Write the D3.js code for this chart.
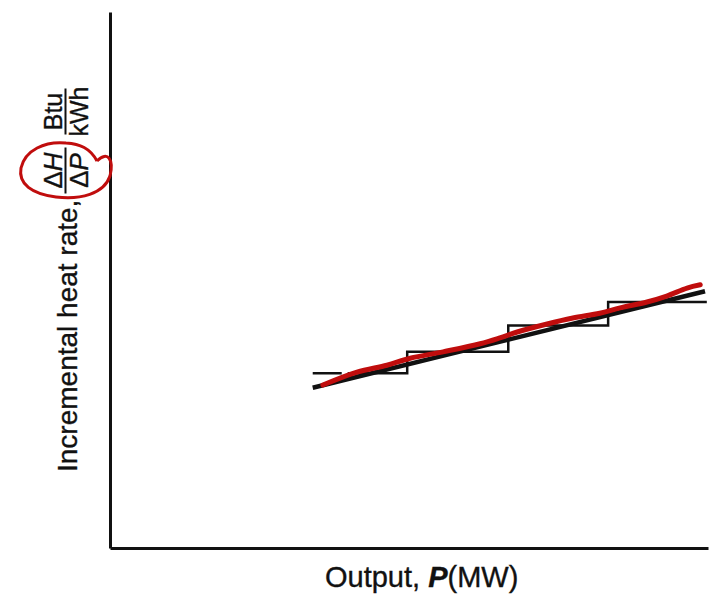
<!DOCTYPE html>
<html>
<head>
<meta charset="utf-8">
<script src="https://cdn.jsdelivr.net/npm/d3@7"></script>
<style>
  html, body { margin: 0; padding: 0; background: #fff; }
  text { font-family: "Liberation Sans", Arial, sans-serif; fill: #111; stroke: #111; stroke-width: 0.35; }
</style>
</head>
<body>
<div id="plot"></div>
<script>
// values (arbitrary units, axes run 0..100)
var stepEdges = [33.9, 49.7, 66.6, 83.3, 99.8];   // P where the staircase steps
var stepLevels = [32.6, 36.6, 41.5, 45.9];        // dH/dP level of each step
var fitP = [33.9, 99.5];                           // straight-line approximation
var fitH = [29.9, 47.9];
var curveP = [35.6, 41.3, 46.3, 50.2, 55.7, 61.9, 65.2, 68.1, 73.1, 77.4, 81.9, 85.3, 89.8, 93.1, 96.5, 98.7];
var curveH = [30.4, 32.8, 34.1, 35.4, 36.6, 38.1, 39.2, 40.3, 41.8, 42.9, 43.8, 44.8, 45.9, 47.0, 48.5, 49.1];

var width = 719, height = 604;
var x = d3.scaleLinear([0, 100], [110, 708]);
var y = d3.scaleLinear([0, 100], [548, 12]);

var svg = d3.select("#plot").append("svg")
  .attr("width", width)
  .attr("height", height)
  .attr("viewBox", [0, 0, width, height]);

// axes: plain lines, no ticks
svg.append("g")
  .attr("transform", `translate(0,${y(0)})`)
  .call(d3.axisBottom(x).ticks(0).tickSizeOuter(0))
  .call(g => g.select(".domain").attr("stroke", "#111").attr("stroke-width", 3));
svg.append("g")
  .attr("transform", `translate(${x(0)},0)`)
  .call(d3.axisLeft(y).ticks(0).tickSizeOuter(0))
  .call(g => g.select(".domain").attr("stroke", "#111").attr("stroke-width", 3));

// staircase
var steps = [];
stepLevels.forEach((h, i) => {
  steps.push([stepEdges[i], h]);
  steps.push([stepEdges[i + 1], h]);
});
var line = d3.line().x(d => x(d[0])).y(d => y(d[1]));
svg.append("path")
  .attr("d", line(steps))
  .attr("fill", "none")
  .attr("stroke", "#111")
  .attr("stroke-width", 2.5)
  .attr("stroke-dasharray", "29,6,2000");

// straight fit
svg.append("path")
  .attr("d", line(fitP.map((p, i) => [p, fitH[i]])))
  .attr("fill", "none")
  .attr("stroke", "#111")
  .attr("stroke-width", 4.5);

// red hand-drawn curve
svg.append("path")
  .attr("d", d3.line().curve(d3.curveCatmullRom).x(d => x(d[0])).y(d => y(d[1]))(curveP.map((p, i) => [p, curveH[i]])))
  .attr("fill", "none")
  .attr("stroke", "#c00d0d")
  .attr("stroke-width", 5)
  .attr("stroke-linecap", "round");

// x label
var xl = svg.append("text")
  .attr("x", 325)
  .attr("y", 587)
  .attr("font-size", 29);
xl.append("tspan").text("Output, ");
xl.append("tspan").attr("font-style", "italic").attr("font-weight", "bold").text("P");
xl.append("tspan").text("(MW)");

// y label, rotated
var yl = svg.append("g").attr("transform", "rotate(-90)");
yl.append("text")
  .attr("x", -472)
  .attr("y", 77)
  .attr("font-size", 28)
  .text("Incremental heat rate,");

function frac(g, cu, num, den, size) {
  var t1 = g.append("text").attr("x", cu).attr("y", 62).attr("text-anchor", "middle").attr("font-size", size);
  t1.append("tspan").text(num[0]);
  if (num[1]) t1.append("tspan").attr("font-style", "italic").text(num[1]);
  g.append("line")
    .attr("x1", cu - 23).attr("x2", cu + 23)
    .attr("y1", 65.5).attr("y2", 65.5)
    .attr("stroke", "#111").attr("stroke-width", 2);
  var t2 = g.append("text").attr("x", cu).attr("y", 88).attr("text-anchor", "middle").attr("font-size", size);
  t2.append("tspan").text(den[0]);
  if (den[1]) t2.append("tspan").attr("font-style", "italic").text(den[1]);
}
frac(yl, -170.5, ["\u0394", "H"], ["\u0394", "P"], 26);
frac(yl, -111.5, ["Btu"], ["kWh"], 25);

// red circle annotation around dH/dP
svg.append("path")
  .attr("d", "M97,161 C108,150 114,160 110,176 C104,194 80,200 56,197 C32,194 18,184 21,168 C25,150 45,141 66,143 C80,144 90,148 97,161")
  .attr("fill", "none")
  .attr("stroke", "#c00d0d")
  .attr("stroke-width", 3);
</script>
</body>
</html>
